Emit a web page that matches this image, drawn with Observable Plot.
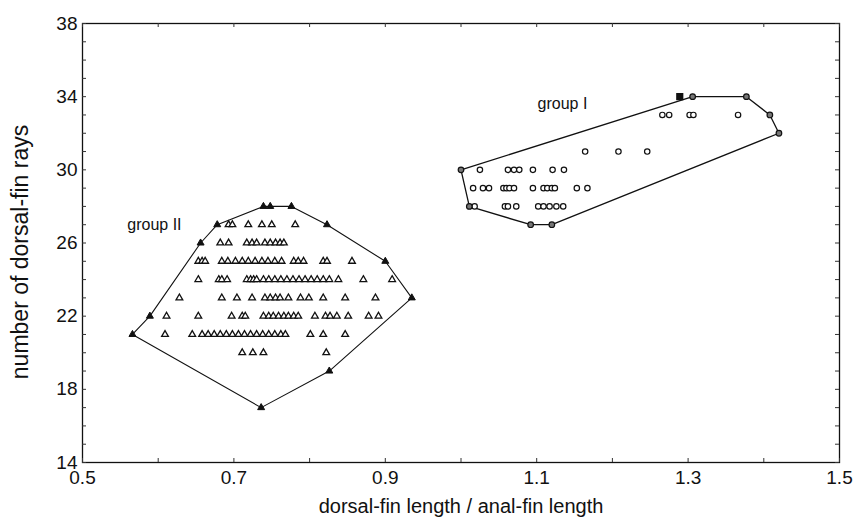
<!DOCTYPE html>
<html><head><meta charset="utf-8">
<script src="https://cdn.jsdelivr.net/npm/d3@7"></script>
<script src="https://cdn.jsdelivr.net/npm/@observablehq/plot@0.6"></script>
<style>body{margin:0;background:#fff;}</style>
</head><body><div id="chart"></div>
<script>
// Axis ticks
const xTicks = [0.5, 0.7, 0.9, 1.1, 1.3, 1.5];
const yTicks = [14, 18, 22, 26, 30, 34, 38];
const xMinor = d3.range(0.5, 1.5001, 0.1);
const yMinor = d3.range(14, 38.001, 1);

// Group I (circles) — interior points
const g1X = [1.266,1.275,1.302,1.307,1.366,
             1.164,1.208,1.246,
             1.025,1.062,1.070,1.077,1.095,1.121,1.136,
             1.016,1.029,1.037,1.056,1.060,1.064,1.070,1.095,1.109,1.114,1.120,1.124,1.153,1.167,
             1.018,1.058,1.062,1.073,1.102,1.109,1.117,1.126,1.135];
const g1Y = [33,33,33,33,33,
             31,31,31,
             30,30,30,30,30,30,30,
             29,29,29,29,29,29,29,29,29,29,29,29,29,29,
             28,28,28,28,28,28,28,28,28];
// Group I hull vertices (in order)
const hull1X = [1.000, 1.306, 1.377, 1.408, 1.420, 1.120, 1.092, 1.011];
const hull1Y = [30, 34, 34, 33, 32, 27, 27, 28];
// Group I overlapping points (drawn solid)
const g1DenseX = [1.289];
const g1DenseY = [34];

// Group II (triangles) — interior points
const g2X = [0.693,0.698,0.719,0.737,0.750,0.781,
             0.682,0.693,0.717,0.724,0.730,0.741,0.748,0.755,0.761,0.766,
             0.653,0.658,0.662,0.684,0.692,0.702,0.711,0.719,0.728,0.737,0.745,0.754,0.763,0.779,0.785,0.792,0.818,0.823,0.856,
             0.653,0.680,0.684,0.691,0.717,0.722,0.726,0.730,0.739,0.746,0.754,0.762,0.770,0.778,0.786,0.794,0.802,0.810,0.818,0.826,0.838,0.871,0.909,
             0.628,0.684,0.704,0.724,0.741,0.748,0.755,0.761,0.772,0.788,0.799,0.818,0.847,0.887,
             0.611,0.653,0.697,0.711,0.715,0.739,0.746,0.752,0.759,0.766,0.772,0.779,0.785,0.807,0.821,0.827,0.836,0.851,0.878,0.891,
             0.609,0.645,0.658,0.666,0.674,0.682,0.690,0.698,0.706,0.714,0.722,0.730,0.738,0.746,0.754,0.762,0.768,0.801,0.818,0.847,
             0.711,0.725,0.739,0.822];
const g2Y = [27,27,27,27,27,27,
             26,26,26,26,26,26,26,26,26,26,
             25,25,25,25,25,25,25,25,25,25,25,25,25,25,25,25,25,25,25,
             24,24,24,24,24,24,24,24,24,24,24,24,24,24,24,24,24,24,24,24,24,24,24,
             23,23,23,23,23,23,23,23,23,23,23,23,23,23,
             22,22,22,22,22,22,22,22,22,22,22,22,22,22,22,22,22,22,22,22,
             21,21,21,21,21,21,21,21,21,21,21,21,21,21,21,21,21,21,21,21,
             20,20,20,20];
// Group II hull vertices (in order)
const hull2X = [0.566, 0.589, 0.656, 0.678, 0.739, 0.748, 0.776, 0.823, 0.900, 0.935, 0.826, 0.736];
const hull2Y = [21, 22, 26, 27, 28, 28, 28, 27, 25, 23, 19, 17];

// Group labels
const groupNames = ["group I", "group II"];
const groupLabelX = [1.134, 0.595];
const groupLabelY = [33.6, 27.0];

const toPts = (xs, ys) => xs.map((x, i) => ({x, y: ys[i]}));
const g1 = toPts(g1X, g1Y);
const g2 = toPts(g2X, g2Y);
const h1 = toPts(hull1X, hull1Y);
const h2 = toPts(hull2X, hull2Y);
const g1d = toPts(g1DenseX, g1DenseY);
const labels = groupNames.map((t, i) => ({t, x: groupLabelX[i], y: groupLabelY[i]}));

const W = 857, H = 523, ML = 82, MR = 18, MT = 23, MB = 61;
const PH = H - MT - MB, PW = W - ML - MR;

const chart = Plot.plot({
  width: W, height: H,
  marginLeft: ML, marginRight: MR, marginTop: MT, marginBottom: MB,
  style: {fontFamily: "'Liberation Sans', Arial, sans-serif", color: "#111", background: "#fff"},
  x: {domain: [0.5, 1.5]},
  y: {domain: [14, 38]},
  marks: [
    Plot.frame({stroke: "#111", strokeWidth: 1.3}),
    Plot.tickX(xMinor, {x: d => d, insetTop: PH - 4, stroke: "#333"}),
    Plot.tickX(xMinor, {x: d => d, insetBottom: PH - 4, stroke: "#333"}),
    Plot.tickY(yMinor, {y: d => d, insetRight: PW - 4, stroke: "#333"}),
    Plot.tickY(yMinor, {y: d => d, insetLeft: PW - 4, stroke: "#333"}),
    Plot.axisX(xTicks, {anchor: "bottom", tickSize: 0, tickPadding: 8, fontSize: 19, tickFormat: d3.format(".1f"), label: null}),
    Plot.axisY(yTicks, {anchor: "left", tickSize: 0, tickPadding: 5, fontSize: 19, label: null}),
    Plot.line(h1, {x: "x", y: "y", curve: "linear-closed", stroke: "#111", strokeWidth: 1.3}),
    Plot.line(h2, {x: "x", y: "y", curve: "linear-closed", stroke: "#111", strokeWidth: 1.1}),
    Plot.dot(g1, {x: "x", y: "y", r: 2.7, stroke: "#111", fill: "white", strokeWidth: 1.2}),
    Plot.dot(h1, {x: "x", y: "y", r: 2.8, stroke: "#111", fill: "#777", strokeWidth: 1.2}),
    Plot.dot(g1d, {x: "x", y: "y", symbol: "square", r: 3.2, fill: "#111", stroke: "#111"}),
    Plot.dot(g2, {x: "x", y: "y", symbol: "triangle", r: 2.5, stroke: "#111", fill: "white", strokeWidth: 1.3}),
    Plot.dot(h2, {x: "x", y: "y", symbol: "triangle", r: 2.6, stroke: "#111", fill: "#111", strokeWidth: 1}),
    Plot.text(labels, {x: "x", y: "y", text: "t", fontSize: 16, fill: "#111"}),
    Plot.text(["dorsal-fin length / anal-fin length"], {frameAnchor: "bottom", dy: 50, fontSize: 20, fill: "#111"}),
    Plot.text(["number of dorsal-fin rays"], {frameAnchor: "left", textAnchor: "middle", dx: -62, dy: 9, rotate: -90, fontSize: 23, fill: "#111"})
  ]
});
document.getElementById("chart").appendChild(chart);
</script>
</body></html>
